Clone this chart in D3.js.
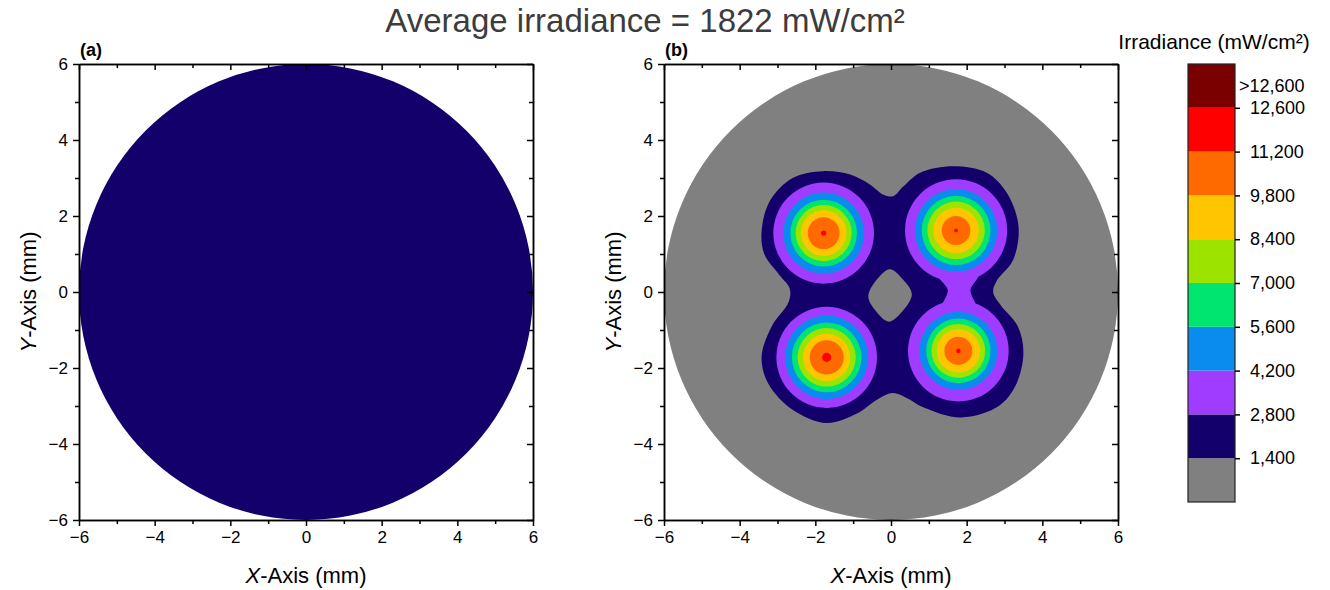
<!DOCTYPE html>
<html>
<head>
<meta charset="utf-8">
<script src="https://cdn.jsdelivr.net/npm/d3@7"></script>
<style>
  body { margin: 0; background: #fff; }
  svg { display: block; font-family: "Liberation Sans", Arial, sans-serif; }
  .axis path, .axis line { stroke: #000; stroke-width: 1.5; }
  .axis text { font-size: 17px; fill: #000; font-family: "Liberation Sans", Arial, sans-serif; }
  .cbar text { font-size: 18px; }
</style>
</head>
<body>
<div id="chart"></div>
<script>
// valores
const avgIrradiance = 1822;
const majorTicks = [-6, -4, -2, 0, 2, 4, 6];
const minorTicks = [-5, -3, -1, 1, 3, 5];
const levels = [1400, 2800, 4200, 5600, 7000, 8400, 9800, 11200, 12600];
const levelLabels = ['1,400', '2,800', '4,200', '5,600', '7,000', '8,400', '9,800', '11,200', '12,600'];
const bandColors = ['#808080', '#13006b', '#a03cff', '#0a8cee', '#00e470', '#9ce400', '#ffc600', '#ff6a00', '#ff0000', '#7a0000'];

// haces del panel (b): centros en mm
const spotX = [-1.78, 1.72, -1.70, 1.78];
const spotY = [1.55, 1.62, -1.72, -1.55];
// radio (mm) donde la irradiancia supera 2800, 4200, 5600, 7000, 8400, 9800, 11200
const spotRings = [
  [1.33, 1.07, 0.88, 0.74, 0.60, 0.42, 0.07],
  [1.35, 1.09, 0.91, 0.76, 0.60, 0.38, 0.05],
  [1.33, 1.10, 0.92, 0.77, 0.62, 0.45, 0.12],
  [1.33, 1.03, 0.85, 0.71, 0.57, 0.37, 0.06]
];
// puente violeta (> 2800) entre los dos haces de la derecha
const bridgeX = [1.25, 1.50, 1.35, 2.25, 2.10, 2.30];
const bridgeY = [0.45, 0.05, -0.45, -0.45, 0.05, 0.45];

// borde exterior de la zona > 1400
const navyEdgeX = [-1.80, -1.08, -0.56, -0.20, 0.06, 0.33, 0.77, 1.65, 2.53, 3.06, 3.37, 3.23, 2.80, 2.70, 2.90, 3.35, 3.50, 3.30, 2.85, 1.85, 0.85, 0.40, 0.05, -0.35, -0.90, -1.70, -2.60, -3.25, -3.42, -3.15, -2.70, -2.68, -2.95, -3.35, -3.42, -3.20, -2.60];
const navyEdgeY = [3.18, 3.09, 2.83, 2.56, 2.52, 2.78, 3.14, 3.31, 3.14, 2.61, 1.73, 0.85, 0.30, 0.00, -0.35, -0.90, -1.60, -2.45, -3.00, -3.30, -3.03, -2.78, -2.66, -2.82, -3.20, -3.45, -3.10, -2.40, -1.70, -0.90, -0.25, 0.10, 0.45, 1.00, 1.60, 2.40, 3.00];
// hueco central (< 1400)
const holeX = [-0.03, 0.30, 0.55, 0.35, -0.05, -0.40, -0.60, -0.38];
const holeY = [0.60, 0.35, -0.05, -0.45, -0.78, -0.50, -0.12, 0.32];

const W = 1330, H = 590;
const plotW = 454, plotH = 456, plotTop = 64;
const panelLeft = [79, 664];
const panelNames = ['(a)', '(b)'];

const color = d3.scaleThreshold().domain(levels).range(bandColors);

const svg = d3.select('#chart').append('svg')
    .attr('width', W)
    .attr('height', H);

svg.append('text')
    .attr('x', 645)
    .attr('y', 32)
    .attr('text-anchor', 'middle')
    .attr('font-size', 33)
    .attr('fill', '#3c3c3c')
    .text('Average irradiance = 1822 mW/cm²');

const x = d3.scaleLinear().domain([-6, 6]).range([0, plotW]);
const y = d3.scaleLinear().domain([-6, 6]).range([plotH, 0]);
const rx = r => x(r) - x(0);
const ry = r => y(0) - y(r);

const edge = d3.line()
    .x(d => x(d[0]))
    .y(d => y(d[1]))
    .curve(d3.curveCatmullRomClosed);

panelLeft.forEach((left, p) => {
  const g = svg.append('g').attr('transform', `translate(${left},${plotTop})`);

  if (p === 0) {
    g.append('ellipse')
        .attr('cx', x(0)).attr('cy', y(0))
        .attr('rx', rx(6)).attr('ry', ry(6))
        .attr('fill', color(avgIrradiance));
  } else {
    g.append('ellipse')
        .attr('cx', x(0)).attr('cy', y(0))
        .attr('rx', rx(6)).attr('ry', ry(6))
        .attr('fill', bandColors[0]);

    g.append('path')
        .attr('d', edge(d3.zip(navyEdgeX, navyEdgeY)))
        .attr('fill', color(levels[0]));

    g.append('path')
        .attr('d', edge(d3.zip(holeX, holeY)))
        .attr('fill', bandColors[0]);

    g.append('path')
        .attr('d', edge(d3.zip(bridgeX, bridgeY)))
        .attr('fill', color(levels[1]));

    // anillos de fuera hacia dentro
    for (let k = 0; k < spotRings[0].length; k++) {
      g.selectAll(null)
        .data(spotRings.map((rings, i) => ({ cx: spotX[i], cy: spotY[i], r: rings[k] })))
        .enter()
        .append('ellipse')
          .attr('cx', d => x(d.cx))
          .attr('cy', d => y(d.cy))
          .attr('rx', d => rx(d.r))
          .attr('ry', d => ry(d.r))
          .attr('fill', color(levels[k + 1]));
    }
  }

  // ejes: abajo/izquierda hacia fuera, arriba/derecha hacia dentro
  g.append('g').attr('class', 'axis').attr('transform', `translate(0,${plotH})`)
      .call(d3.axisBottom(x).tickValues(majorTicks).tickSize(6).tickSizeOuter(0).tickPadding(5).tickFormat(d3.format('')));
  g.append('g').attr('class', 'axis').attr('transform', `translate(0,${plotH})`)
      .call(d3.axisBottom(x).tickValues(minorTicks).tickSize(4).tickSizeOuter(0).tickFormat(''));
  g.append('g').attr('class', 'axis')
      .call(d3.axisLeft(y).tickValues(majorTicks).tickSize(6).tickSizeOuter(0).tickPadding(5).tickFormat(d3.format('')));
  g.append('g').attr('class', 'axis')
      .call(d3.axisLeft(y).tickValues(minorTicks).tickSize(4).tickSizeOuter(0).tickFormat(''));
  g.append('g').attr('class', 'axis')
      .call(d3.axisTop(x).tickValues(majorTicks).tickSize(-6).tickSizeOuter(0).tickFormat(''));
  g.append('g').attr('class', 'axis')
      .call(d3.axisTop(x).tickValues(minorTicks).tickSize(-4).tickSizeOuter(0).tickFormat(''));
  g.append('g').attr('class', 'axis').attr('transform', `translate(${plotW},0)`)
      .call(d3.axisRight(y).tickValues(majorTicks).tickSize(-6).tickSizeOuter(0).tickFormat(''));
  g.append('g').attr('class', 'axis').attr('transform', `translate(${plotW},0)`)
      .call(d3.axisRight(y).tickValues(minorTicks).tickSize(-4).tickSizeOuter(0).tickFormat(''));

  g.append('text')
      .attr('x', 1)
      .attr('y', -8)
      .attr('font-size', 18)
      .attr('font-weight', 'bold')
      .text(panelNames[p]);

  const xl = g.append('text')
      .attr('x', plotW / 2)
      .attr('y', plotH + 63)
      .attr('text-anchor', 'middle')
      .attr('font-size', 22);
  xl.append('tspan').attr('font-style', 'italic').text('X');
  xl.append('tspan').text('-Axis (mm)');

  const yl = g.append('text')
      .attr('transform', `translate(-43,${plotH / 2}) rotate(-90)`)
      .attr('text-anchor', 'middle')
      .attr('font-size', 22);
  yl.append('tspan').attr('font-style', 'italic').text('Y');
  yl.append('tspan').text('-Axis (mm)');
});

// barra de color
const cbLeft = 1188, cbW = 47, cbTop = 64, cbBottom = 502;
const cb = d3.scaleLinear().domain([0, bandColors.length]).range([cbBottom, cbTop]);

svg.append('text')
    .attr('x', 1214)
    .attr('y', 49)
    .attr('text-anchor', 'middle')
    .attr('font-size', 21)
    .text('Irradiance (mW/cm²)');

svg.selectAll('rect.band')
  .data(bandColors)
  .enter()
  .append('rect')
    .attr('class', 'band')
    .attr('x', cbLeft)
    .attr('y', (d, i) => cb(i + 1))
    .attr('width', cbW)
    .attr('height', (d, i) => cb(i) - cb(i + 1))
    .attr('fill', d => d);

svg.append('rect')
    .attr('x', cbLeft).attr('y', cbTop)
    .attr('width', cbW).attr('height', cbBottom - cbTop)
    .attr('fill', 'none')
    .attr('stroke', '#222')
    .attr('stroke-width', 1.2);

svg.append('g').attr('class', 'axis cbar')
    .attr('transform', `translate(${cbLeft + cbW},0)`)
    .call(d3.axisRight(cb).tickValues(d3.range(1, levels.length + 1)).tickSize(5).tickSizeOuter(0)
      .tickPadding(10).tickFormat(i => levelLabels[i - 1]))
    .call(s => s.select('.domain').remove());

svg.append('text')
    .attr('x', cbLeft + cbW + 4)
    .attr('y', cb(levels.length + 0.5) + 6)
    .attr('font-size', 18)
    .text('>' + levelLabels[levelLabels.length - 1]);
</script>
</body>
</html>
